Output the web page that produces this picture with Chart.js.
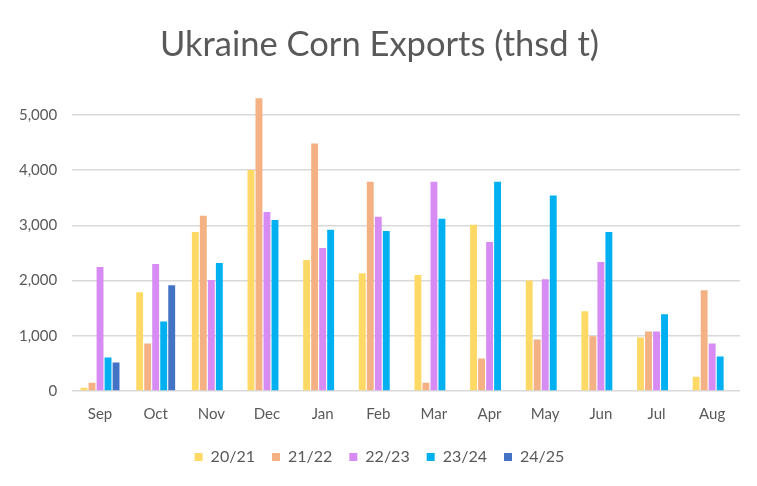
<!DOCTYPE html>
<html>
<head>
<meta charset="utf-8">
<script src="https://cdn.jsdelivr.net/npm/chart.js@4/dist/chart.umd.min.js"></script>
<style>
html,body{margin:0;padding:0;background:#fff;}
#wrap{width:757px;height:486px;position:relative;}
</style>
</head>
<body>
<div id="wrap"><canvas id="c" width="757" height="486"></canvas></div>
<script>
const categories = ["Sep","Oct","Nov","Dec","Jan","Feb","Mar","Apr","May","Jun","Jul","Aug"];
const seriesNames = ["20/21","21/22","22/23","23/24","24/25"];
const s2021 = [60,1790,2880,4005,2375,2135,2100,3010,2000,1445,970,260];
const s2122 = [150,860,3175,5305,4485,3790,150,590,935,990,1080,1825];
const s2223 = [2245,2300,2010,3245,2590,3155,3790,2700,2025,2335,1080,860];
const s2324 = [605,1260,2320,3100,2920,2900,3120,3790,3540,2880,1390,625];
const s2425 = [515,1915,null,null,null,null,null,null,null,null,null,null];
const colors = ["#FFD966","#F4B183","#D68CF2","#00B0F0","#4472C4"];
const yTicks = [0,1000,2000,3000,4000,5000];

const allSeries = [s2021,s2122,s2223,s2324,s2425];
const datasets = allSeries.map((d,i)=>({
  label: seriesNames[i],
  data: d,
  backgroundColor: colors[i],
  borderWidth: 0,
  categoryPercentage: 0.72,
  barPercentage: 0.86
}));

new Chart(document.getElementById('c'), {
  type: 'bar',
  data: { labels: categories, datasets },
  options: {
    responsive: false,
    animation: false,
    devicePixelRatio: 1,
    layout: { padding: { left: 19, right: 17, top: 0, bottom: 11 } },
    plugins: {
      title: {
        display: true,
        text: 'Ukraine Corn Exports (thsd t)',
        color: '#595959',
        font: { family: 'Lato, "Open Sans", sans-serif', size: 34.5, weight: 'normal' },
        padding: { top: 24, bottom: 22 }
      },
      legend: {
        position: 'bottom',
        labels: {
          color: '#595959',
          font: { family: 'Lato, "Open Sans", sans-serif', size: 16 },
          boxWidth: 8, boxHeight: 8,
          padding: 17
        }
      },
      tooltip: { enabled: false }
    },
    scales: {
      x: {
        grid: { display: false },
        border: { display: false },
        ticks: { color: '#595959', font: { family: 'Lato, "Open Sans", sans-serif', size: 15 }, padding: 6 },
        afterFit: (s) => { s.height += 3; }
      },
      y: {
        min: 0, max: 5500,
        afterBuildTicks: (ax) => { ax.ticks = yTicks.map(v => ({ value: v })); },
        afterFit: (s) => { s.width -= 15; },
        grid: { color: '#D9D9D9', lineWidth: 1.5, drawTicks: false },
        border: { display: false },
        ticks: {
          color: '#595959',
          font: { family: 'Lato, "Open Sans", sans-serif', size: 15 },
          padding: 15,
          callback: (v) => v.toLocaleString('en-US')
        }
      }
    }
  }
});
</script>
</body>
</html>
